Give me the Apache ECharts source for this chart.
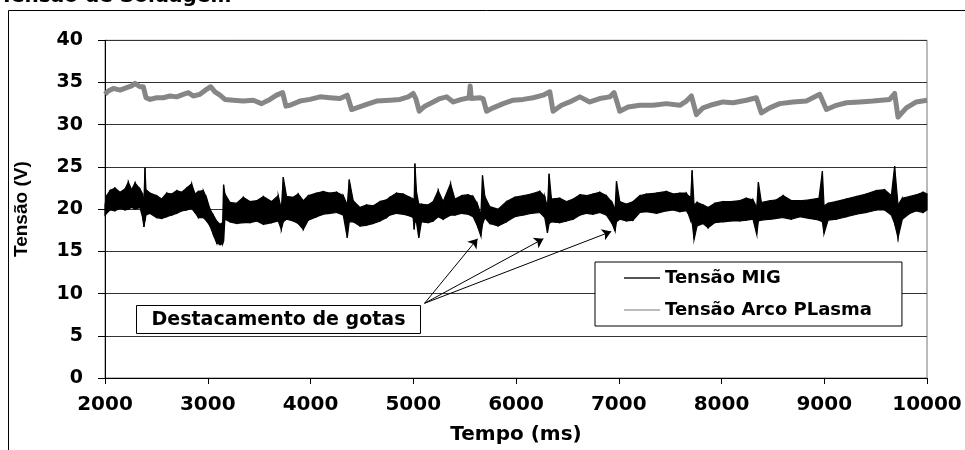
<!DOCTYPE html>
<html>
<head>
<meta charset="utf-8">
<script src="https://cdn.jsdelivr.net/npm/echarts@6/dist/echarts.min.js"></script>
<style>html,body{margin:0;padding:0;background:#fff}#c{width:965px;height:450px}</style>
</head>
<body>
<div id="c"></div>
<script>
// ---- Data ----
const xTicks = [2000, 3000, 4000, 5000, 6000, 7000, 8000, 9000, 10000];
const yTicks = [0, 5, 10, 15, 20, 25, 30, 35, 40];

// Tensão MIG: time (ms) and lower / upper edge of the noisy band (V)
const migT = [2000,2016,2049,2097,2146,2195,2227,2259,2292,2340,2366,2379,2389,2399,2438,2503,2552,2600,2649,2697,2746,2795,2843,2876,2908,2957,2989,3022,3054,3086,3119,3145,3154,3167,3216,3281,3346,3411,3476,3541,3622,3686,3716,3735,3767,3832,3881,3930,3978,4059,4124,4189,4254,4319,4358,4377,4416,4481,4546,4611,4676,4741,4772,4837,4902,4967,4999,5009,5016,5032,5054,5080,5145,5194,5243,5291,5363,5405,5470,5534,5583,5625,5658,5674,5697,5745,5826,5907,5988,6069,6151,6232,6280,6306,6322,6345,6426,6491,6556,6621,6686,6751,6815,6880,6935,6964,6978,7010,7075,7140,7205,7270,7367,7464,7529,7594,7658,7675,7701,7714,7733,7762,7821,7869,7934,8015,8096,8177,8242,8307,8343,8359,8388,8469,8534,8599,8680,8761,8858,8949,8982,8998,9037,9118,9215,9312,9410,9507,9588,9653,9685,9718,9760,9831,9896,9961,10000];
const migLow = [19.3,19.5,19.9,19.8,20.1,19.9,20.0,20.2,20.0,20.2,19.0,17.9,18.6,19.3,19.5,19.0,18.9,19.1,19.3,19.5,19.8,19.9,20.1,19.6,19.0,19.0,18.6,18.0,17.0,16.0,15.8,15.9,16.2,18.8,18.5,18.3,18.4,18.4,18.6,18.2,18.4,18.6,17.6,18.5,18.8,18.6,18.3,17.6,18.7,19.1,19.4,19.5,19.6,19.3,16.6,18.5,18.5,18.0,18.1,18.3,18.6,19.0,19.3,19.5,19.4,19.2,19.0,17.6,18.5,18.4,16.6,18.5,18.4,18.6,19.1,18.8,19.3,19.3,19.5,19.4,19.1,18.0,16.8,18.2,19.0,18.3,18.0,18.5,19.1,19.3,19.5,19.6,19.0,17.2,18.3,18.5,18.4,18.6,18.8,19.3,19.5,19.4,19.6,19.3,18.3,17.4,18.5,18.8,18.6,18.7,19.6,19.7,19.5,19.8,19.9,19.7,19.8,19.5,18.6,18.5,16.4,18.0,18.3,17.8,18.4,18.5,18.6,18.6,18.7,18.8,17.0,18.6,18.7,18.8,18.9,19.0,18.8,19.1,18.9,18.7,18.5,17.1,18.7,18.8,19.1,19.4,19.6,19.9,19.9,19.3,18.3,16.6,18.8,19.5,19.8,19.6,19.9];
const migHigh = [20.5,21.6,22.2,22.5,22.0,22.4,23.2,22.3,23.1,22.4,21.8,21.0,24.9,22.3,21.9,21.6,21.2,21.9,21.8,22.2,22.0,22.5,23.0,21.8,22.1,22.2,21.3,20.0,19.3,18.6,18.2,18.4,22.9,21.8,20.8,20.7,21.4,20.9,21.0,21.5,20.9,21.6,20.0,23.8,21.5,21.4,21.8,21.0,21.6,21.9,22.1,21.9,22.0,21.6,20.5,23.5,21.0,20.2,20.5,20.4,20.9,21.1,21.4,21.9,21.8,21.4,21.2,21.0,25.4,22.0,20.6,20.6,20.5,20.9,22.2,20.9,23.0,21.2,21.6,21.7,21.5,20.6,19.4,24.0,21.5,20.3,20.0,20.9,21.4,21.6,21.8,22.1,21.5,20.2,24.2,21.2,21.3,20.9,21.2,21.7,21.6,21.8,22.0,21.6,20.8,20.0,23.3,20.9,20.6,20.9,21.6,21.8,21.9,22.1,21.8,21.9,21.9,21.6,21.4,24.6,20.5,20.8,20.5,20.2,20.7,20.9,20.9,21.0,21.3,21.1,20.2,23.2,20.8,21.0,21.1,21.6,21.0,21.0,21.1,21.3,24.5,20.4,20.7,20.9,21.2,21.5,21.8,22.2,22.3,21.6,25.1,20.5,21.3,21.5,21.7,22.0,21.8];

// Tensão Arco Plasma: time (ms) and voltage (V)
const plasmaT = [2000,2032,2081,2146,2211,2259,2292,2340,2373,2399,2438,2503,2568,2632,2697,2762,2811,2859,2924,2989,3028,3070,3119,3167,3249,3346,3443,3524,3605,3670,3729,3761,3800,3897,3994,4092,4189,4286,4358,4400,4449,4546,4643,4773,4870,4951,4999,5025,5058,5113,5194,5259,5324,5389,5470,5544,5554,5564,5648,5680,5713,5778,5875,5972,6069,6167,6264,6329,6361,6442,6523,6621,6718,6815,6913,6955,7010,7091,7205,7334,7464,7594,7658,7707,7756,7821,7918,8015,8113,8242,8339,8388,8469,8566,8696,8826,8956,9021,9118,9215,9345,9474,9637,9685,9718,9799,9896,10000];
const plasmaV = [33.6,34.0,34.3,34.1,34.4,34.6,34.9,34.5,34.5,33.2,33.0,33.2,33.2,33.4,33.3,33.6,33.8,33.4,33.6,34.2,34.5,33.9,33.5,33.0,32.9,32.8,32.9,32.5,33.0,33.5,33.8,32.2,32.3,32.8,33.0,33.3,33.2,33.1,33.5,31.8,32.0,32.4,32.8,32.9,33.0,33.3,33.7,33.1,31.6,32.2,32.7,33.1,33.3,32.7,33.0,33.2,34.6,33.1,33.2,33.1,31.6,32.0,32.5,32.9,33.0,33.2,33.5,33.9,31.6,32.3,32.7,33.3,32.7,33.1,33.3,33.8,31.6,32.1,32.3,32.3,32.5,32.3,32.8,33.4,31.2,32.0,32.4,32.7,32.6,32.9,33.2,31.4,32.0,32.5,32.7,32.8,33.6,31.8,32.3,32.6,32.7,32.8,33.0,33.7,30.9,32.0,32.7,32.9];

// Annotation: label anchor and arrow targets (time ms, V)
const arrowStart = [5110, 8.85];
const arrowEnds = [[5626, 16.5], [6267, 16.5], [6927, 17.35]];

const seriesNames = ['Tensão MIG', 'Tensão Arco PLasma'];
// ---------------------------------------------

const FONT = 'DejaVu Sans';
const chart = echarts.init(document.getElementById('c'), null, {renderer: 'canvas'});

const migData = migT.map((t, i) => [t, migLow[i], migHigh[i]]);
const plasmaData = plasmaT.map((t, i) => [t, plasmaV[i]]);

const option = {
  backgroundColor: '#fff',
  animation: false,
  grid: {left: 105, right: 38, top: 40.3, bottom: 69.3, show: true, borderColor: '#777', borderWidth: 1, backgroundColor: 'transparent'},
  xAxis: {
    type: 'value', min: xTicks[0], max: xTicks[xTicks.length - 1], interval: 1000,
    axisLine: {show: true, lineStyle: {color: '#000', width: 1}},
    axisTick: {show: true, length: 6, lineStyle: {color: '#000'}},
    axisLabel: {fontFamily: FONT, fontWeight: 'bold', fontSize: 20, color: '#000', margin: 17, formatter: v => String(v)},
    splitLine: {show: false},
    name: 'Tempo (ms)', nameLocation: 'middle', nameGap: 47,
    nameTextStyle: {fontFamily: FONT, fontWeight: 'bold', fontSize: 20, color: '#000'}
  },
  yAxis: {
    type: 'value', min: yTicks[0], max: yTicks[yTicks.length - 1], interval: 5,
    axisLine: {show: true, lineStyle: {color: '#000', width: 1}},
    axisTick: {show: true, length: 7, inside: false, lineStyle: {color: '#000'}},
    axisLabel: {fontFamily: FONT, fontWeight: 'bold', fontSize: 19, color: '#000', margin: 22, formatter: v => String(v)},
    splitLine: {show: true, lineStyle: {color: '#333', width: 1}},
    name: 'Tensão (V)', nameLocation: 'middle', nameGap: 74,
    nameTextStyle: {fontFamily: 'Liberation Sans', fontWeight: 'bold', fontSize: 19, color: '#000'}
  },
  legend: {
    orient: 'vertical', left: 595, top: 262,
    padding: [5, 30, 5, 29], itemGap: 10, itemWidth: 36, itemHeight: 2, icon: 'rect',
    borderColor: '#000', borderWidth: 1, backgroundColor: '#fff',
    textStyle: {fontFamily: FONT, fontWeight: 'bold', fontSize: 18, color: '#000', lineHeight: 22},
    data: [
      {name: seriesNames[0], itemStyle: {color: '#555'}},
      {name: seriesNames[1], itemStyle: {color: '#bbb'}}
    ]
  },
  series: [
    {
      name: seriesNames[1], type: 'line', data: plasmaData, showSymbol: false, symbol: 'none',
      lineStyle: {color: '#868686', width: 5, join: 'round'}, itemStyle: {color: '#868686'},
      z: 3,
      markLine: {
        silent: true, symbol: ['none', 'arrow'], symbolSize: 9,
        lineStyle: {color: '#000', width: 1, type: 'solid'},
        label: {show: false},
        emphasis: {disabled: true},
        data: arrowEnds.map(e => [{coord: arrowStart}, {coord: e}])
      }
    },
    {
      name: seriesNames[0], type: 'custom', data: migData,
      encode: {x: 0, y: [1, 2]}, itemStyle: {color: '#000'}, z: 4,
      renderItem: function (params, api) {
        const i = params.dataIndex;
        if (i >= migT.length - 1) return null;
        const pts = [
          api.coord([migT[i], migLow[i]]),
          api.coord([migT[i + 1], migLow[i + 1]]),
          api.coord([migT[i + 1], migHigh[i + 1]]),
          api.coord([migT[i], migHigh[i]])
        ];
        return {type: 'polygon', shape: {points: pts}, style: {fill: '#000', stroke: '#000', lineWidth: 1.2}};
      }
    }
  ],
  graphic: [
    {type: 'text', left: 0, top: -13, style: {text: 'Tensão de Soldagem', font: 'bold 20px "DejaVu Sans"', fill: '#000'}},
    {type: 'line', shape: {x1: 8.5, y1: 10.5, x2: 965, y2: 10.5}, style: {stroke: '#000', lineWidth: 1}},
    {type: 'line', shape: {x1: 8.5, y1: 10.5, x2: 8.5, y2: 450}, style: {stroke: '#000', lineWidth: 1}},
    {type: 'group', left: 136, top: 305, children: [
      {type: 'rect', shape: {x: 0.5, y: 0.5, width: 284, height: 28}, style: {fill: '#fff', stroke: '#000', lineWidth: 1}},
      {type: 'text', style: {x: 142.5, y: 15, text: 'Destacamento de gotas', font: 'bold 19px "DejaVu Sans"', fill: '#000', align: 'center', verticalAlign: 'middle'}}
    ]}
  ]
};
chart.setOption(option);
</script>
</body>
</html>
